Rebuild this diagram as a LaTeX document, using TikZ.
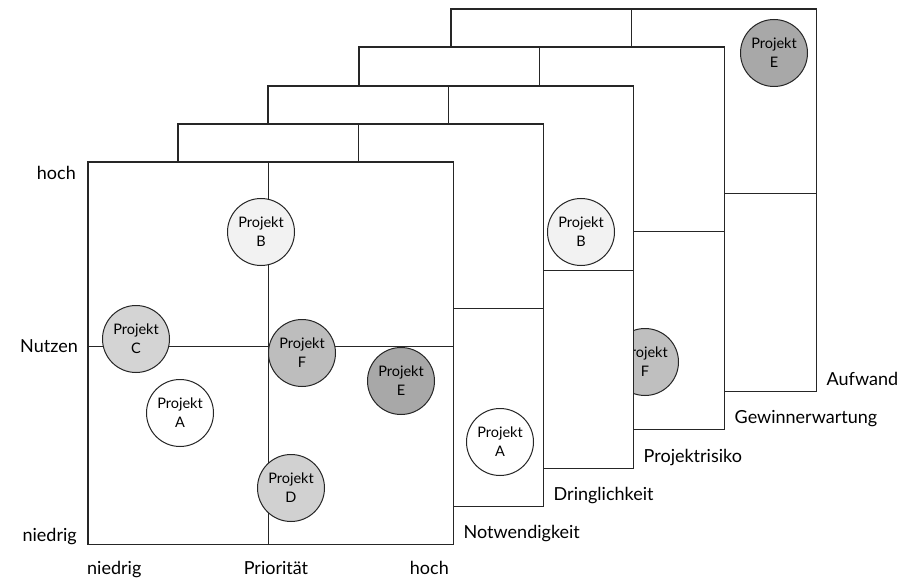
\documentclass[tikz,border=0pt]{standalone}
\usepackage{fontspec}
\setmainfont{Lato}
\usetikzlibrary{calc}
\begin{document}
\begin{tikzpicture}[x=1pt,y=-1pt,
  frame/.style={draw=black!85,line width=1.5pt,fill=white,rectangle,
    minimum width=364pt,minimum height=381pt,inner sep=0pt,anchor=north west},
  divider/.style={draw=black!85,line width=0.9pt},
  proj/.style={circle,draw=black!85,line width=1pt,minimum size=67pt,inner sep=0pt,
    align=center,font=\fontsize{14.5}{19}\selectfont},
  axis/.style={inner sep=0pt,font=\fontsize{18}{22}\selectfont},
]
\useasboundingbox (0,0) rectangle (900,583);

% one matrix: white frame and its two dividers
\newcommand{\matrixframe}[3]{%
  \node[frame,draw=none] (#1) at (#2,#3) {};
  \coordinate (#1t) at ($(#1.north west)+(180,0)$);
  \coordinate (#1b) at ($(#1.south west)+(180,0)$);
  \coordinate (#1l) at ($(#1.north west)+(0,184)$);
  \coordinate (#1r) at ($(#1.north east)+(0,184)$);
  \draw[divider] (#1t) -- (#1b);
  \draw[divider] (#1l) -- (#1r);
}
% outline of a matrix, drawn over its projects
\newcommand{\frameoutline}[1]{%
  \draw[draw=black!85,line width=1.5pt] (#1.north west) rectangle (#1.south east);
}

% Aufwand
\matrixframe{f5}{451}{9}
\node[proj,fill=black!34] (e5) at (774,53) {Projekt\\E};
\frameoutline{f5}
\node[axis,anchor=base west] (l5) at ($(f5.south east)+(10,-6)$) {Aufwand};

% Gewinnerwartung
\matrixframe{f4}{359}{47}
\node[proj,fill=black!25] (f4p) at (645,362) {Projekt\\F};
\frameoutline{f4}
\node[axis,anchor=base west] (l4) at ($(f4.south east)+(10,-6)$) {Gewinnerwartung};

% Projektrisiko
\matrixframe{f3}{268}{86}
\node[proj,fill=black!5] (b3) at (581,232) {Projekt\\B};
\frameoutline{f3}
\node[axis,anchor=base west] (l3) at ($(f3.south east)+(10,-6)$) {Projektrisiko};

% Dringlichkeit
\matrixframe{f2}{178}{124}
\node[proj,fill=white] (a2) at (500,442) {Projekt\\A};
\frameoutline{f2}
\node[axis,anchor=base west] (l2) at ($(f2.south east)+(10,-6)$) {Dringlichkeit};

% Notwendigkeit (front matrix: Nutzen over Priorität)
\matrixframe{f1}{88}{162}
\node[proj,fill=black!5] (b1) at (261,232) {Projekt\\B};
\node[proj,fill=black!17] (c1) at (136,339) {Projekt\\C};
\node[proj,fill=black!26] (f1p) at (302,353) {Projekt\\F};
\node[proj,fill=black!34] (e1) at (401,381) {Projekt\\E};
\node[proj,fill=white] (a1) at (180,413) {Projekt\\A};
\node[proj,fill=black!18] (d1) at (291,488) {Projekt\\D};
\frameoutline{f1}
\node[axis,anchor=base west] (l1) at ($(f1.south east)+(10,-6)$) {Notwendigkeit};

% axis labels
\node[axis,anchor=base east] (yhi) at (76,180) {hoch};
\node[axis,anchor=base east] (ymid) at (78,352) {Nutzen};
\node[axis,anchor=base east] (ylo) at (77,541) {niedrig};
\node[axis,anchor=base west] (xlo) at (87,574) {niedrig};
\node[axis,anchor=base] (xmid) at (276,574) {Priorität};
\node[axis,anchor=base east] (xhi) at (449,574) {hoch};
\end{tikzpicture}
\end{document}
